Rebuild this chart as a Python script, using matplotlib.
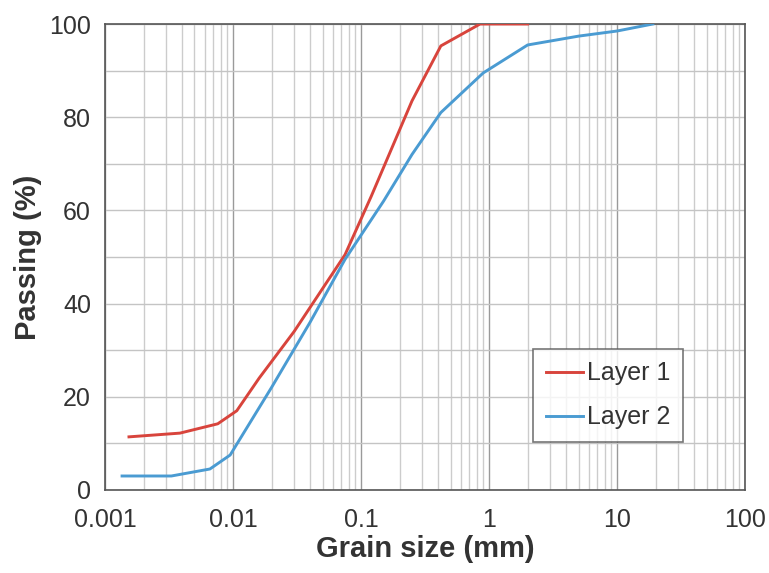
import matplotlib.pyplot as plt
from matplotlib.ticker import FixedLocator, LogLocator, NullFormatter

plt.rcParams['font.family'] = ['Liberation Sans', 'DejaVu Sans']

# grain size (mm) and percent passing
size1 = [0.00154, 0.00385, 0.0076, 0.0107, 0.016, 0.03, 0.075, 0.12, 0.25, 0.42, 0.85, 2.0]
pass1 = [11.4, 12.2, 14.2, 17.0, 24.0, 34.0, 50.5, 63.0, 83.5, 95.3, 100, 100]

size2 = [0.00136, 0.0033, 0.0066, 0.0095, 0.02, 0.04, 0.075, 0.15, 0.25, 0.42, 0.9, 2.0, 5.0, 10, 19]
pass2 = [3.0, 3.0, 4.5, 7.5, 22.0, 36.0, 49.5, 62.0, 72.0, 81.0, 89.5, 95.5, 97.4, 98.5, 100]

xticks = [0.001, 0.01, 0.1, 1, 10, 100]
xlabels = ['0.001', '0.01', '0.1', '1', '10', '100']

fig = plt.figure(figsize=(7.69, 5.73), dpi=100)
ax = fig.add_axes([0.1365, 0.1449, 0.8325, 0.8132])

ax.plot(size1, pass1, color='#d8443c', lw=2.1, label='Layer 1', zorder=3)
ax.plot(size2, pass2, color='#4a9bd2', lw=2.1, label='Layer 2', zorder=3)

ax.set_xscale('log')
ax.set_xlim(0.001, 100)
ax.set_ylim(0, 100)
ax.set_xticks(xticks)
ax.set_xticklabels(xlabels)
ax.xaxis.set_minor_locator(LogLocator(base=10, subs=range(2, 10)))
ax.xaxis.set_minor_formatter(NullFormatter())
ax.set_yticks(range(0, 101, 20))
ax.yaxis.set_minor_locator(FixedLocator(range(10, 100, 20)))

ax.grid(which='major', axis='x', color='#9a9a9a', lw=1.0)
ax.grid(which='minor', axis='x', color='#cccccc', lw=1.0)
ax.grid(which='both', axis='y', color='#c4c4c4', lw=1.0)
ax.set_axisbelow(True)

ax.tick_params(which='both', length=0, labelsize=18, colors='#333333')
ax.tick_params(axis='x', pad=13)
ax.tick_params(axis='y', pad=10)
for s in ax.spines.values():
    s.set_color('#555555')
    s.set_linewidth(1.2)

ax.set_xlabel('Grain size (mm)', fontsize=21, fontweight='bold', color='#333333', labelpad=2)
ax.set_ylabel('Passing (%)', fontsize=21, fontweight='bold', color='#333333', labelpad=5)

leg = ax.legend(loc='lower right', bbox_to_anchor=(0.903, 0.103), borderaxespad=0, fontsize=18,
                frameon=True, fancybox=False, edgecolor='#555555', handlelength=1.5,
                handletextpad=0.15, borderpad=0.5, labelspacing=0.8, labelcolor='#333333')
leg.get_frame().set_linewidth(1.2)

fig.savefig('out.png', dpi=100)
